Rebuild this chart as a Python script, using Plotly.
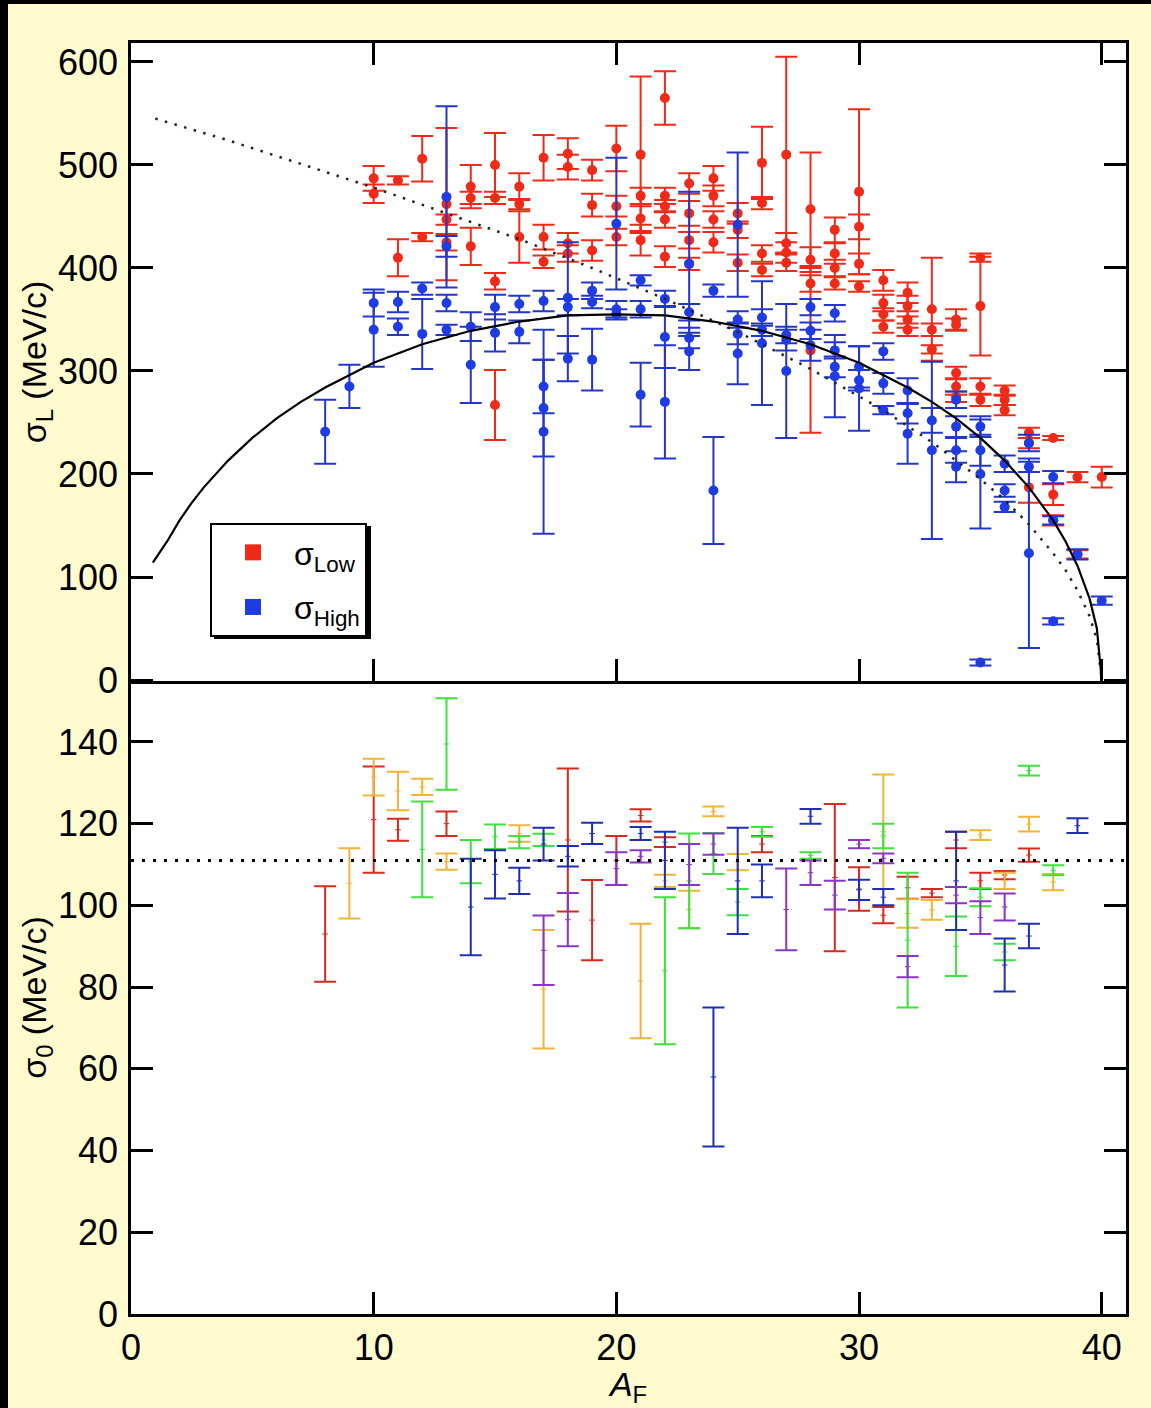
import plotly.graph_objects as go

# ---------------- data: top panel (sigma_L) ----------------
low_A = [10, 10, 11, 11, 12, 12, 13, 13, 13, 14, 14, 14, 15, 15, 15, 15,
         16, 16, 16, 17, 17, 17, 18, 18, 18, 18, 19, 19, 19, 20, 20, 20,
         21, 21, 21, 21, 22, 22, 22, 22, 22, 23, 23, 23, 23, 24, 24, 24, 24,
         25, 25, 25, 26, 26, 26, 26, 27, 27, 27, 27, 28, 28, 28, 28,
         29, 29, 29, 29, 30, 30, 30, 30, 31, 31, 31, 31, 32, 32, 32, 32,
         33, 33, 33, 34, 34, 34, 34, 34, 35, 35, 35, 35, 36, 36, 36,
         37, 37, 37, 38, 38, 38, 39, 39, 40]
low_sigma = [487, 472, 485, 410, 506, 430, 462, 447, 425, 479, 468, 421, 500, 468, 387, 267,
             479, 462, 430, 507, 430, 406, 511, 498, 424, 414, 495, 461, 417, 516, 460, 430,
             510, 470, 448, 427, 565, 470, 460, 447, 411, 482, 453, 427, 404, 487, 470, 447, 425,
             453, 437, 405, 502, 463, 414, 398, 510, 424, 415, 405, 457, 408, 385, 320,
             437, 414, 400, 385, 474, 440, 404, 382, 388, 366, 355, 343, 376, 363, 350, 340,
             360, 340, 321, 350, 345, 298, 285, 275, 410, 363, 285, 272, 281, 272, 262,
             240, 230, 187, 235, 180, 155, 197, 122, 197]
low_err = [12, 9, 4, 18, 22, 4, 74, 5, 8, 21, 6, 18, 31, 6, 8, 34,
           13, 5, 25, 22, 12, 6, 15, 12, 10, 8, 10, 11, 10, 22, 10, 8,
           76, 8, 12, 15, 26, 8, 6, 8, 10, 10, 12, 8, 6, 12, 10, 8, 10,
           10, 8, 8, 35, 6, 8, 6, 95, 10, 10, 8, 55, 12, 8, 80,
           12, 10, 8, 6, 80, 12, 10, 5, 10, 8, 6, 6, 10, 10, 8, 6,
           50, 6, 4, 10, 6, 6, 8, 5, 4, 48, 8, 6, 5, 5, 5,
           5, 5, 15, 2, 10, 5, 5, 4, 10]

high_A = [8, 9, 10, 10, 11, 11, 12, 12, 13, 13, 13, 13, 14, 14, 15, 15, 16, 16,
          17, 17, 17, 17, 18, 18, 18, 19, 19, 19, 20, 20, 20, 21, 21, 21,
          22, 22, 22, 23, 23, 23, 23, 24, 24, 25, 25, 25, 25, 26, 26, 26,
          27, 27, 27, 28, 28, 28, 29, 29, 29, 29, 30, 30, 30, 31, 31, 31,
          32, 32, 32, 33, 33, 34, 34, 34, 34, 35, 35, 35, 35, 36, 36, 36,
          37, 37, 37, 38, 38, 38, 39, 40]
high_sigma = [241, 285, 366, 340, 367, 343, 380, 336, 469, 421, 366, 340, 343, 306, 362, 337, 365, 338,
              368, 285, 264, 241, 371, 362, 312, 378, 367, 311, 443, 360, 355, 388, 360, 277,
              370, 333, 270, 404, 357, 332, 319, 378, 184, 442, 350, 336, 317, 352, 340, 327,
              335, 330, 300, 362, 339, 325, 356, 320, 304, 295, 304, 291, 283, 319, 288, 262,
              281, 259, 239, 252, 223, 272, 246, 223, 207, 246, 223, 200, 17, 210, 184, 168,
              230, 207, 123, 197, 155, 57, 122, 77]
high_err = [31, 21, 13, 36, 10, 8, 6, 34, 88, 10, 8, 5, 14, 37, 12, 18, 8, 11,
            10, 26, 47, 99, 54, 8, 22, 8, 6, 30, 64, 8, 5, 5, 8, 31,
            8, 30, 55, 70, 8, 10, 18, 6, 52, 70, 8, 10, 30, 8, 6, 60,
            8, 10, 65, 8, 8, 15, 8, 8, 10, 40, 20, 10, 41, 8, 10, 4,
            12, 10, 29, 12, 86, 8, 10, 12, 15, 10, 15, 53, 3, 8, 6, 5,
            8, 5, 92, 6, 4, 3, 5, 4]

# fitted curves
fit_A = [0.9, 1.5, 2, 2.5, 3, 4, 5, 6, 7, 8, 10, 12, 14, 16, 18, 20, 22, 24, 26, 28, 30,
         32, 33, 34, 35, 36, 37, 38, 38.5, 39, 39.5, 39.8, 40]
fit_sigma = [114, 135, 155, 172, 187, 213, 235, 254, 270, 284, 308, 326, 339, 348, 354, 355, 354,
             348, 339, 326, 308, 284, 270, 254, 235, 213, 187, 155, 135, 111, 79, 50, 0]
dot_A = [1, 4, 7, 10, 13, 16, 19, 22, 25, 28, 31, 33, 35, 36, 37, 38, 38.5, 39, 39.5, 39.8, 40]
dot_sigma = [545, 524, 501, 478, 453, 428, 400, 370, 338, 302, 262, 231, 195, 175, 151,
             123, 107, 87, 62, 39, 0]

# ---------------- data: bottom panel (sigma_0) ----------------
red_A = [8, 10, 11, 13, 18, 19, 20, 21, 22, 26, 29, 30, 31, 32, 33, 34, 35, 36, 37]
red_s0 = [93, 121, 118.5, 120, 116, 96.4, 111, 122, 115.5, 115, 106.8, 104, 97.6, 104.3,
          103, 116, 106, 107.4, 112.3]
red_err = [11.7, 13, 2.7, 3, 17.5, 9.8, 6, 1.5, 1.2, 2, 18, 5.3, 2, 2.7, 1, 2, 2, 1, 1.6]

orange_A = [9, 10, 11, 12, 13, 16, 17, 21, 22, 23, 24, 25, 31, 32, 33, 35, 36, 37, 38]
orange_s0 = [105.4, 131.4, 128, 129, 110.7, 117.6, 79.5, 81.5, 106, 99, 123, 110.6, 118, 98,
             98.9, 117.2, 106, 119.9, 105.7]
orange_err = [8.6, 4.5, 4.7, 2, 2, 2, 14.5, 14, 1.5, 4.6, 1.2, 2, 14, 3.5, 2.4, 1.2, 2, 1.8, 2]

green_A = [12, 13, 14, 15, 16, 17, 22, 23, 24, 25, 26, 28, 31, 32, 34, 35, 36, 37, 38]
green_s0 = [113.7, 139.5, 110.7, 116.8, 115.5, 116, 84, 106, 112.7, 100.8, 118, 112.2, 117,
            91.5, 90, 102, 88.6, 133, 108.6]
green_err = [11.7, 11.2, 5.3, 3, 1.5, 1.5, 18, 11.6, 5, 3.2, 1.2, 0.8, 3, 16.5, 7.3, 2.2, 2, 1.2, 1.2]

blue_A = [14, 15, 16, 17, 18, 19, 21, 22, 24, 25, 26, 28, 30, 31, 34, 36, 37, 39]
blue_s0 = [99.6, 107.6, 106, 115, 112, 117.6, 117.6, 111, 58, 106, 106, 121.8, 103.8, 102,
           106, 85.4, 92.5, 119.5]
blue_err = [11.8, 5.9, 3.2, 4, 2.5, 2.6, 1.6, 7, 17, 13, 4, 1.8, 2.5, 2, 12, 6.5, 3, 1.8]

purple_A = [17, 18, 20, 21, 23, 24, 27, 28, 29, 30, 31, 32, 34, 35, 36]
purple_s0 = [89, 96.5, 109, 112, 110, 115, 99, 108, 102.5, 115, 111.5, 85, 102.5, 97, 99.6]
purple_err = [8.5, 6.5, 4, 1.5, 5, 2.6, 10, 3, 3.5, 1, 1.2, 2.6, 2, 4, 3.3]

SIGMA0 = 111

# ---------------- styling ----------------
RED = "#ef2a18"
BLUE = "#1f3be4"
BLUE_ERR = "#2436c8"
FONT = "Liberation Sans, Arial, Helvetica, sans-serif"
PAPER = "#FFFBCE"

fig = go.Figure()

# top panel data
fig.add_trace(go.Scatter(
    x=low_A, y=low_sigma, mode="markers", xaxis="x2", yaxis="y2", showlegend=False,
    marker=dict(color=RED, size=10),
    error_y=dict(type="data", array=low_err, visible=True, color=RED, thickness=2, width=11)))
fig.add_trace(go.Scatter(
    x=high_A, y=high_sigma, mode="markers", xaxis="x2", yaxis="y2", showlegend=False,
    marker=dict(color=BLUE, size=10),
    error_y=dict(type="data", array=high_err, visible=True, color=BLUE_ERR, thickness=2, width=11)))

fig.add_trace(go.Scatter(
    x=dot_A, y=dot_sigma, mode="lines", xaxis="x2", yaxis="y2", showlegend=False,
    line=dict(color="#222222", width=2.5, dash="2.5px,7.5px")))
fig.add_trace(go.Scatter(
    x=fit_A, y=fit_sigma, mode="lines", xaxis="x2", yaxis="y2", showlegend=False,
    line=dict(color="black", width=2.2)))

# legend entries
fig.add_trace(go.Scatter(
    x=[None], y=[None], mode="markers", xaxis="x2", yaxis="y2", name="σ<sub>Low</sub>",
    legendgroup="low", marker=dict(symbol="square", size=16, color=RED)))
fig.add_trace(go.Scatter(
    x=[None], y=[None], mode="markers", xaxis="x2", yaxis="y2", name="σ<sub>High</sub>",
    legendgroup="high", marker=dict(symbol="square", size=16, color=BLUE)))

# bottom panel data
for xs, ys, es, col in [
    (red_A, red_s0, red_err, "#d62a1e"),
    (orange_A, orange_s0, orange_err, "#f0b43a"),
    (green_A, green_s0, green_err, "#3fe03f"),
    (blue_A, blue_s0, blue_err, "#1f2fb4"),
    (purple_A, purple_s0, purple_err, "#8a35c8"),
]:
    fig.add_trace(go.Scatter(
        x=xs, y=ys, mode="markers", xaxis="x", yaxis="y", showlegend=False,
        marker=dict(color=col, size=4, symbol="cross-thin", line=dict(color=col, width=1)),
        error_y=dict(type="data", array=es, visible=True, color=col, thickness=2, width=11)))

axis_common = dict(
    showline=True, linecolor="black", linewidth=2.5,
    ticks="inside", ticklen=22, tickwidth=2.5, tickcolor="black",
    showgrid=False, zeroline=False, automargin=False,
    tickfont=dict(family=FONT, size=36, color="black"),
)

fig.update_layout(
    width=1151, height=1408,
    margin=dict(l=131, r=25, t=43, b=94),
    paper_bgcolor=PAPER, plot_bgcolor="white",
    font=dict(family=FONT, color="black"),
    xaxis=dict(axis_common, range=[0, 41], tickvals=[0, 10, 20, 30, 40], anchor="y",
               mirror=False, ticklabelstandoff=0,
               title=dict(text="<i>A</i><sub>F</sub>", font=dict(family=FONT, size=34), standoff=12)),
    yaxis=dict(axis_common, range=[0, 154.9], domain=[0, 0.498], anchor="x", mirror="ticks",
               tickvals=[0, 20, 40, 60, 80, 100, 120, 140], ticklabelstandoff=3,
               title=dict(text="σ<sub>0</sub> (MeV/c)", font=dict(family=FONT, size=34), standoff=0)),
    xaxis2=dict(axis_common, range=[0, 41], tickvals=[0, 10, 20, 30, 40], anchor="y2",
                mirror="ticks", matches="x", showticklabels=False),
    yaxis2=dict(axis_common, range=[-1, 618.4], domain=[0.498, 1], anchor="x2", mirror="ticks",
                tickvals=[0, 100, 200, 300, 400, 500, 600], ticklabelstandoff=3,
                title=dict(text="σ<sub>L</sub> (MeV/c)", font=dict(family=FONT, size=34), standoff=0)),
    legend=dict(x=0.0794, y=0.6223, xanchor="left", yanchor="top",
                bgcolor="white", bordercolor="black", borderwidth=2,
                font=dict(family=FONT, size=32, color="black"),
                itemwidth=72, tracegroupgap=10, traceorder="grouped"),
    shapes=[
        # legend drop shadow
        dict(type="rect", xref="paper", yref="paper", x0=0.0834, x1=0.2412, y0=0.5311, y1=0.6200,
             fillcolor="black", line=dict(width=0), layer="above"),
        # horizontal reference line at sigma_0
        dict(type="line", xref="x domain", yref="y", x0=0, x1=1, y0=SIGMA0, y1=SIGMA0,
             line=dict(color="black", width=3, dash="3px,8px"), layer="above"),
        # black frame strips of the original slide
        dict(type="rect", xref="paper", yref="paper", x0=-0.1317, x1=-0.1236, y0=-0.08, y1=1.04,
             fillcolor="black", line=dict(width=0)),
        dict(type="rect", xref="paper", yref="paper", x0=-0.1317, x1=1.03, y0=1.0307, y1=1.04,
             fillcolor="black", line=dict(width=0)),
    ],
)

fig.write_html("out.html")
